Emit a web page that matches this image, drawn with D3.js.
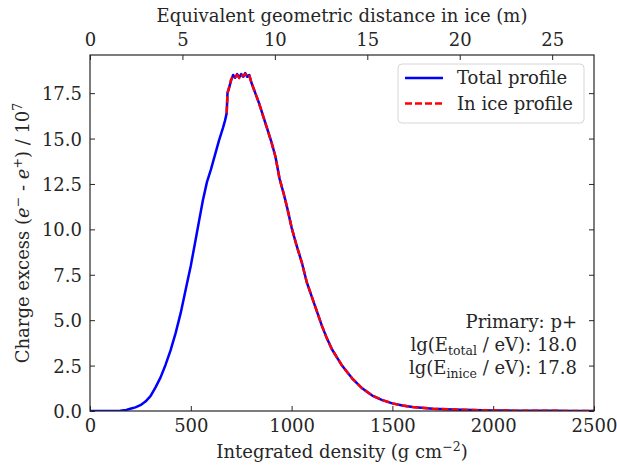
<!DOCTYPE html>
<html lang="en">
<head>
<meta charset="UTF-8">
<title>Charge excess profile</title>
<script src="https://cdn.jsdelivr.net/npm/d3@7"></script>
<style>
  body { margin: 0; background: #fff; }
  svg text { font-family: "DejaVu Serif", "Liberation Serif", serif !important; fill: #262626; }
</style>
</head>
<body>
<script>
// grammage in g/cm^2
const grammage = [0, 50, 100, 150, 180, 200, 225, 250, 275, 300, 325, 350, 375, 400, 425, 450, 475, 500,
  520, 540, 560, 580, 600, 620, 640, 660, 670, 678, 682, 690, 700, 710, 720, 730, 740, 750, 760, 770,
  780, 790, 800, 810, 820, 840, 860, 880, 900, 920, 940, 960, 980, 1000, 1025, 1050, 1075, 1100, 1125,
  1150, 1175, 1200, 1250, 1300, 1350, 1400, 1450, 1500, 1550, 1600, 1700, 1800, 1900, 2000, 2100,
  2200, 2300, 2400, 2500]

// charge excess / 1e7
const totalProfile = [0, 0, 0, 0.02, 0.06, 0.12, 0.2, 0.32, 0.52, 0.82, 1.3, 1.85, 2.55, 3.35, 4.3, 5.4, 6.7, 8.0,
  9.2, 10.4, 11.6, 12.6, 13.3, 14.1, 14.9, 15.6, 16.0, 16.4, 17.5, 17.8, 18.2, 18.5, 18.35, 18.55, 18.35, 18.55, 18.4, 18.6,
  18.4, 18.5, 18.1, 17.8, 17.5, 16.9, 16.2, 15.5, 14.8, 14.0, 12.8, 12.0, 11.1, 10.1, 9.1, 8.2, 7.1, 6.3, 5.5,
  4.7, 4.0, 3.4, 2.5, 1.8, 1.25, 0.85, 0.6, 0.42, 0.3, 0.22, 0.13, 0.08, 0.05, 0.03, 0.02,
  0.01, 0.01, 0.0, 0.0]

// in-ice profile, only defined after the shower enters the ice
const inIceProfile = [null, null, null, null, null, null, null, null, null, null, null, null, null, null, null, null, null, null,
  null, null, null, null, null, null, null, null, null, 16.4, 17.5, 17.8, 18.25, 18.45, 18.4, 18.5, 18.35, 18.5, 18.45, 18.55,
  18.45, 18.5, 18.1, 17.8, 17.5, 16.9, 16.2, 15.5, 14.8, 14.0, 12.8, 12.0, 11.1, 10.1, 9.1, 8.2, 7.1, 6.3, 5.5,
  4.7, 4.0, 3.4, 2.5, 1.8, 1.25, 0.85, 0.6, 0.42, 0.3, 0.22, 0.13, 0.08, 0.05, 0.03, 0.02,
  0.01, 0.01, 0.0, 0.0]

const xTicks = [0, 500, 1000, 1500, 2000, 2500]
const yTicks = [0, 2.5, 5, 7.5, 10, 12.5, 15, 17.5]
const topTicks = [0, 5, 10, 15, 20, 25]
const iceDensity = 0.917 // g/cm^3, for the top axis in metres

const w = 617
const h = 466
const m = {top: 55, right: 23, bottom: 55, left: 90}
const font = '"DejaVu Serif", "Liberation Serif", serif'
const fs = 18
const fsSmall = 12.5

const svg = d3.select("body").append("svg").attr("width", w).attr("height", h)
  .attr("font-family", font)

const x = d3.scaleLinear().domain([0, 2500]).range([m.left, w - m.right])
const y = d3.scaleLinear().domain([0, 19.6]).range([h - m.bottom, m.top])
const xTop = d3.scaleLinear().domain([0, 2500 / iceDensity / 100]).range([m.left, w - m.right])

// axes, ticks pointing inward
const bottomAxis = d3.axisBottom(x).tickValues(xTicks).tickFormat(d3.format("d")).tickSizeInner(-5).tickSizeOuter(0).tickPadding(8)
const leftAxis = d3.axisLeft(y).tickValues(yTicks).tickFormat(d3.format(".1f")).tickSizeInner(-5).tickSizeOuter(0).tickPadding(8)
const topAxis = d3.axisTop(xTop).tickValues(topTicks).tickFormat(d3.format("d")).tickSizeInner(-5).tickSizeOuter(0).tickPadding(9)
const rightAxis = d3.axisRight(y).tickValues(yTicks).tickFormat("").tickSizeInner(-5).tickSizeOuter(0)

const gB = svg.append("g").attr("transform", `translate(0,${h - m.bottom})`).call(bottomAxis)
const gL = svg.append("g").attr("transform", `translate(${m.left},0)`).call(leftAxis)
const gT = svg.append("g").attr("transform", `translate(0,${m.top})`).call(topAxis)
const gR = svg.append("g").attr("transform", `translate(${w - m.right},0)`).call(rightAxis)

;[gB, gL, gT, gR].forEach(g => {
  g.attr("font-family", font)
  g.select(".domain").remove()
  g.selectAll(".tick line").attr("stroke", "#262626").attr("stroke-width", 1)
  g.selectAll(".tick text").style("font-size", fs + "px")
})
gL.selectAll(".tick text").attr("dy", "0.36em")

// data lines
const clipId = "plot-clip"
svg.append("clipPath").attr("id", clipId).append("rect")
  .attr("x", m.left).attr("y", m.top)
  .attr("width", w - m.left - m.right).attr("height", h - m.top - m.bottom)

const line = d3.line()
  .defined(d => d[1] != null)
  .x(d => x(d[0]))
  .y(d => y(d[1]))

svg.append("path")
  .datum(grammage.map((g, i) => [g, totalProfile[i]]))
  .attr("clip-path", `url(#${clipId})`)
  .attr("fill", "none")
  .attr("stroke", "#0000ff")
  .attr("stroke-width", 2.5)
  .attr("stroke-linejoin", "round")
  .attr("d", line)

svg.append("path")
  .datum(grammage.map((g, i) => [g, inIceProfile[i]]))
  .attr("clip-path", `url(#${clipId})`)
  .attr("fill", "none")
  .attr("stroke", "#ff0000")
  .attr("stroke-width", 2.5)
  .attr("stroke-dasharray", "7,3")
  .attr("d", line)

// frame
svg.append("rect")
  .attr("x", m.left).attr("y", m.top)
  .attr("width", w - m.left - m.right).attr("height", h - m.top - m.bottom)
  .attr("fill", "none").attr("stroke", "#262626").attr("stroke-width", 1.2)

// axis titles
const xLabel = svg.append("text").attr("x", (m.left + w - m.right) / 2).attr("y", 458)
  .attr("text-anchor", "middle").style("font-size", fs + "px")
xLabel.append("tspan").text("Integrated density (g cm")
xLabel.append("tspan").text("\u22122").attr("dy", -7).style("font-size", fsSmall + "px")
xLabel.append("tspan").text(")").attr("dy", 7)

svg.append("text").attr("x", (m.left + w - m.right) / 2).attr("y", 22)
  .attr("text-anchor", "middle").style("font-size", fs + "px")
  .text("Equivalent geometric distance in ice (m)")

const yLabel = svg.append("text")
  .attr("transform", `translate(29,${(m.top + h - m.bottom) / 2}) rotate(-90)`)
  .attr("text-anchor", "middle").style("font-size", fs + "px")
yLabel.append("tspan").text("Charge excess (")
yLabel.append("tspan").text("e").style("font-style", "italic")
yLabel.append("tspan").text("\u2212").attr("dy", -7).style("font-size", fsSmall + "px")
yLabel.append("tspan").text(" - ").attr("dy", 7)
yLabel.append("tspan").text("e").style("font-style", "italic")
yLabel.append("tspan").text("+").attr("dy", -7).style("font-size", fsSmall + "px")
yLabel.append("tspan").text(") / 10").attr("dy", 7)
yLabel.append("tspan").text("7").attr("dy", -7).style("font-size", fsSmall + "px")

// legend
const legend = svg.append("g")
legend.append("rect").attr("x", 398).attr("y", 64).attr("width", 186).attr("height", 59)
  .attr("rx", 4).attr("fill", "#fff").attr("fill-opacity", 0.8)
  .attr("stroke", "#d6d6d6").attr("stroke-width", 1)
const legendItems = [
  {label: "Total profile", color: "#0000ff", dash: null},
  {label: "In ice profile", color: "#ff0000", dash: "7,3"}
]
legendItems.forEach((d, i) => {
  const ly = 78 + i * 25.5
  legend.append("line").attr("x1", 405).attr("x2", 443).attr("y1", ly).attr("y2", ly)
    .attr("stroke", d.color).attr("stroke-width", 2.5)
    .attr("stroke-dasharray", d.dash)
  legend.append("text").attr("x", 457).attr("y", ly + 6).style("font-size", fs + "px").text(d.label)
})

// annotation
const ann = svg.append("g").attr("text-anchor", "end").style("font-size", fs + "px")
ann.append("text").attr("x", 577).attr("y", 328).text("Primary: p+")
const a2 = ann.append("text").attr("x", 577).attr("y", 351)
a2.append("tspan").text("lg(E")
a2.append("tspan").text("total").attr("dy", 4).style("font-size", fsSmall + "px")
a2.append("tspan").text(" / eV): 18.0").attr("dy", -4)
const a3 = ann.append("text").attr("x", 577).attr("y", 374)
a3.append("tspan").text("lg(E")
a3.append("tspan").text("inice").attr("dy", 4).style("font-size", fsSmall + "px")
a3.append("tspan").text(" / eV): 17.8").attr("dy", -4)
</script>
</body>
</html>
